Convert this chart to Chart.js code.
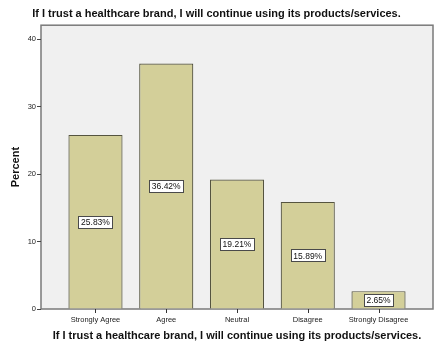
<!DOCTYPE html>
<html>
<head>
<meta charset="utf-8">
<script src="https://cdn.jsdelivr.net/npm/chart.js@4.4.1/dist/chart.umd.min.js"></script>
<style>
  html, body { margin: 0; padding: 0; background: #ffffff; }
  #wrap { width: 439px; height: 351px; }
</style>
</head>
<body>
<div id="wrap"><canvas id="percentChart"></canvas></div>
<script>
// data
const categories = ['Strongly Agree', 'Agree', 'Neutral', 'Disagree', 'Strongly Disagree'];
const percents = [25.83, 36.42, 19.21, 15.89, 2.65];
const yTicks = [0, 10, 20, 30, 40];
const titleText = 'If I trust a healthcare brand, I will continue using its products/services.';

const positions = categories.map((c, i) => i + 1); // bar slots on the x axis

// grey plot background with a frame round it, plus the small marks under each bar
const plotFrame = {
    id: 'plotFrame',
    beforeDraw(chart) {
        const a = chart.chartArea, ctx = chart.ctx;
        ctx.save();
        ctx.fillStyle = '#f0f0f0';
        ctx.fillRect(a.left, a.top, a.right - a.left, a.bottom - a.top);
        ctx.strokeStyle = '#7a7a7a';
        ctx.lineWidth = 1.5;
        ctx.strokeRect(a.left, a.top, a.right - a.left, a.bottom - a.top);
        ctx.restore();
    },
    afterDraw(chart) {
        const a = chart.chartArea, ctx = chart.ctx, xs = chart.scales.x;
        ctx.save();
        ctx.strokeStyle = '#333333';
        ctx.lineWidth = 1;
        positions.forEach(v => {
            const px = Math.round(xs.getPixelForValue(v)) + 0.5;
            ctx.beginPath();
            ctx.moveTo(px, a.bottom);
            ctx.lineTo(px, a.bottom + 4);
            ctx.stroke();
        });
        ctx.restore();
    }
};

// the boxed percentage in the middle of every bar
const valueBoxes = {
    id: 'valueBoxes',
    afterDatasetsDraw(chart) {
        const ctx = chart.ctx;
        const meta = chart.getDatasetMeta(0);
        ctx.save();
        ctx.font = '8.5px "Liberation Sans", Arial, sans-serif';
        ctx.textAlign = 'center';
        ctx.textBaseline = 'middle';
        meta.data.forEach((bar, i) => {
            const txt = percents[i].toFixed(2) + '%';
            const y = (bar.y + bar.base) / 2;
            const w = Math.round(ctx.measureText(txt).width + 5);
            const h = 12;
            const bx = Math.round(bar.x - w / 2) + 0.5, by = Math.round(y - h / 2) + 0.5;
            ctx.fillStyle = '#ffffff';
            ctx.fillRect(bx, by, w, h);
            ctx.strokeStyle = '#4a4a4a';
            ctx.lineWidth = 1;
            ctx.strokeRect(bx, by, w, h);
            ctx.fillStyle = '#111111';
            ctx.fillText(txt, bar.x, y + 1);
        });
        ctx.restore();
    }
};

document.addEventListener('DOMContentLoaded', () => {
    const ctx = document.getElementById('percentChart').getContext('2d');
    new Chart(ctx, {
        type: 'bar',
        data: {
            datasets: [{
                data: positions.map((x, i) => ({ x: x, y: percents[i] })),
                backgroundColor: '#d3cf99',
                borderColor: '#55543f',
                borderWidth: 1.2,
                categoryPercentage: 1,
                barPercentage: 0.765
            }]
        },
        plugins: [plotFrame, valueBoxes],
        options: {
            responsive: true,
            maintainAspectRatio: false,
            animation: false,
            layout: { padding: { left: 0, right: 6, top: 0, bottom: 0 } },
            plugins: {
                legend: { display: false },
                tooltip: { enabled: false },
                title: {
                    display: true,
                    text: titleText,
                    color: '#111111',
                    font: { family: '"Liberation Sans", Arial, sans-serif', size: 11, weight: 'bold' },
                    padding: { top: 7, bottom: 5 }
                }
            },
            scales: {
                x: {
                    type: 'linear',
                    offset: false,
                    min: 0.23,
                    max: 5.77,
                    afterFit(scale) { scale.height = 42; },
                    afterBuildTicks(scale) { scale.ticks = positions.map(v => ({ value: v })); },
                    border: { display: false },
                    grid: { offset: false, drawOnChartArea: false, tickLength: 5, color: 'rgba(0,0,0,0)' },
                    ticks: {
                        callback: (v) => categories[v - 1],
                        autoSkip: false,
                        maxRotation: 0,
                        padding: 1,
                        color: '#222222',
                        font: { family: '"Liberation Sans", Arial, sans-serif', size: 7.5 }
                    },
                    title: {
                        display: true,
                        text: titleText,
                        color: '#111111',
                        font: { family: '"Liberation Sans", Arial, sans-serif', size: 11, weight: 'bold' },
                        padding: { top: 4, bottom: 8 }
                    }
                },
                y: {
                    min: 0,
                    max: 42.1,
                    afterFit(scale) { scale.width = 41; },
                    afterBuildTicks(scale) { scale.ticks = yTicks.map(v => ({ value: v })); },
                    border: { display: false },
                    grid: { drawOnChartArea: false, tickLength: 4, color: '#444444', lineWidth: 1 },
                    ticks: {
                        padding: 1,
                        color: '#222222',
                        font: { family: '"Liberation Sans", Arial, sans-serif', size: 7.5 }
                    },
                    title: {
                        display: true,
                        text: 'Percent',
                        color: '#111111',
                        font: { family: '"Liberation Sans", Arial, sans-serif', size: 11, weight: 'bold' },
                        padding: { top: 9, bottom: 0 }
                    }
                }
            }
        }
    });
});
</script>
</body>
</html>
